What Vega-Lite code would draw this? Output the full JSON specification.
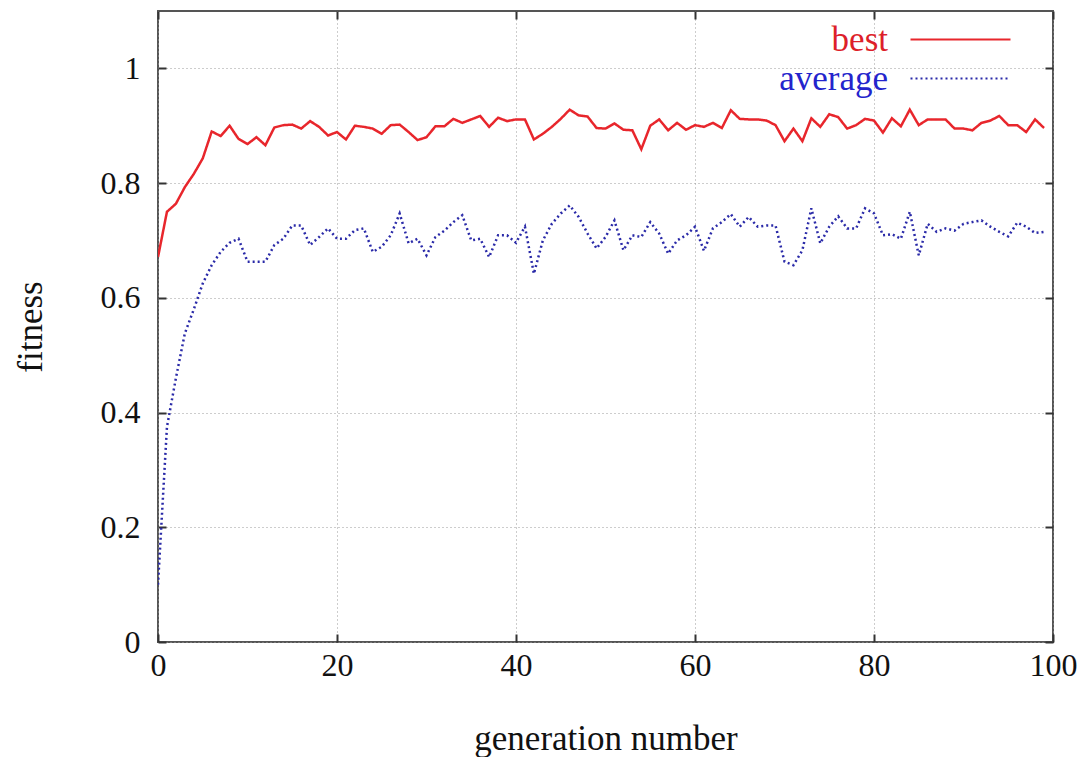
{
  "$schema": "https://vega.github.io/schema/vega-lite/v6.json",
  "width": 895,
  "height": 631,
  "autosize": {"type": "none"},
  "padding": {"left": 158, "top": 11, "right": 32, "bottom": 115},
  "background": "white",
  "config": {
    "font": "Liberation Serif",
    "view": {"stroke": "#555555", "strokeWidth": 2},
    "axis": {
      "domain": false,
      "tickColor": "#333333",
      "tickWidth": 2,
      "tickSize": -8,
      "labelFlush": false,
      "labelFont": "Liberation Serif",
      "labelFontSize": 32,
      "labelColor": "#111111",
      "titleFont": "Liberation Serif",
      "titleFontSize": 35,
      "titleFontWeight": "normal",
      "titleColor": "#111111",
      "gridColor": "#9a9a9a",
      "gridDash": [1, 3],
      "gridWidth": 1
    }
  },
  "data": {
    "values": [
      {"g": 0, "best": 0.671, "average": 0.10},
      {"g": 1, "best": 0.750, "average": 0.375},
      {"g": 2, "best": 0.764, "average": 0.46},
      {"g": 3, "best": 0.793, "average": 0.538},
      {"g": 4, "best": 0.816, "average": 0.58},
      {"g": 5, "best": 0.843, "average": 0.625},
      {"g": 6, "best": 0.890, "average": 0.657},
      {"g": 7, "best": 0.882, "average": 0.680},
      {"g": 8, "best": 0.900, "average": 0.696},
      {"g": 9, "best": 0.877, "average": 0.703},
      {"g": 10, "best": 0.868, "average": 0.663},
      {"g": 11, "best": 0.880, "average": 0.663},
      {"g": 12, "best": 0.866, "average": 0.663},
      {"g": 13, "best": 0.897, "average": 0.692},
      {"g": 14, "best": 0.901, "average": 0.703},
      {"g": 15, "best": 0.902, "average": 0.726},
      {"g": 16, "best": 0.895, "average": 0.726},
      {"g": 17, "best": 0.908, "average": 0.692},
      {"g": 18, "best": 0.898, "average": 0.706},
      {"g": 19, "best": 0.883, "average": 0.721},
      {"g": 20, "best": 0.889, "average": 0.703},
      {"g": 21, "best": 0.876, "average": 0.703},
      {"g": 22, "best": 0.900, "average": 0.718},
      {"g": 23, "best": 0.898, "average": 0.721},
      {"g": 24, "best": 0.895, "average": 0.680},
      {"g": 25, "best": 0.886, "average": 0.689},
      {"g": 26, "best": 0.901, "average": 0.709},
      {"g": 27, "best": 0.902, "average": 0.747},
      {"g": 28, "best": 0.889, "average": 0.695},
      {"g": 29, "best": 0.875, "average": 0.703},
      {"g": 30, "best": 0.880, "average": 0.674},
      {"g": 31, "best": 0.899, "average": 0.706},
      {"g": 32, "best": 0.899, "average": 0.717},
      {"g": 33, "best": 0.912, "average": 0.732},
      {"g": 34, "best": 0.905, "average": 0.744},
      {"g": 35, "best": 0.911, "average": 0.700},
      {"g": 36, "best": 0.917, "average": 0.703},
      {"g": 37, "best": 0.898, "average": 0.671},
      {"g": 38, "best": 0.914, "average": 0.709},
      {"g": 39, "best": 0.908, "average": 0.709},
      {"g": 40, "best": 0.911, "average": 0.696},
      {"g": 41, "best": 0.911, "average": 0.724},
      {"g": 42, "best": 0.876, "average": 0.642},
      {"g": 43, "best": 0.886, "average": 0.700},
      {"g": 44, "best": 0.898, "average": 0.729},
      {"g": 45, "best": 0.912, "average": 0.747},
      {"g": 46, "best": 0.928, "average": 0.761},
      {"g": 47, "best": 0.918, "average": 0.741},
      {"g": 48, "best": 0.916, "average": 0.712},
      {"g": 49, "best": 0.896, "average": 0.686},
      {"g": 50, "best": 0.895, "average": 0.706},
      {"g": 51, "best": 0.904, "average": 0.735},
      {"g": 52, "best": 0.893, "average": 0.683},
      {"g": 53, "best": 0.892, "average": 0.709},
      {"g": 54, "best": 0.859, "average": 0.706},
      {"g": 55, "best": 0.900, "average": 0.732},
      {"g": 56, "best": 0.911, "average": 0.712},
      {"g": 57, "best": 0.892, "average": 0.677},
      {"g": 58, "best": 0.905, "average": 0.700},
      {"g": 59, "best": 0.893, "average": 0.709},
      {"g": 60, "best": 0.901, "average": 0.724},
      {"g": 61, "best": 0.898, "average": 0.682},
      {"g": 62, "best": 0.905, "average": 0.721},
      {"g": 63, "best": 0.896, "average": 0.732},
      {"g": 64, "best": 0.927, "average": 0.746},
      {"g": 65, "best": 0.912, "average": 0.724},
      {"g": 66, "best": 0.911, "average": 0.741},
      {"g": 67, "best": 0.911, "average": 0.724},
      {"g": 68, "best": 0.909, "average": 0.726},
      {"g": 69, "best": 0.901, "average": 0.726},
      {"g": 70, "best": 0.873, "average": 0.663},
      {"g": 71, "best": 0.895, "average": 0.657},
      {"g": 72, "best": 0.873, "average": 0.683},
      {"g": 73, "best": 0.913, "average": 0.756},
      {"g": 74, "best": 0.898, "average": 0.695},
      {"g": 75, "best": 0.920, "average": 0.724},
      {"g": 76, "best": 0.915, "average": 0.742},
      {"g": 77, "best": 0.895, "average": 0.721},
      {"g": 78, "best": 0.901, "average": 0.721},
      {"g": 79, "best": 0.912, "average": 0.756},
      {"g": 80, "best": 0.909, "average": 0.747},
      {"g": 81, "best": 0.888, "average": 0.709},
      {"g": 82, "best": 0.913, "average": 0.711},
      {"g": 83, "best": 0.899, "average": 0.703},
      {"g": 84, "best": 0.928, "average": 0.750},
      {"g": 85, "best": 0.901, "average": 0.674},
      {"g": 86, "best": 0.911, "average": 0.729},
      {"g": 87, "best": 0.911, "average": 0.715},
      {"g": 88, "best": 0.911, "average": 0.721},
      {"g": 89, "best": 0.895, "average": 0.717},
      {"g": 90, "best": 0.895, "average": 0.729},
      {"g": 91, "best": 0.892, "average": 0.732},
      {"g": 92, "best": 0.905, "average": 0.735},
      {"g": 93, "best": 0.909, "average": 0.724},
      {"g": 94, "best": 0.917, "average": 0.715},
      {"g": 95, "best": 0.901, "average": 0.707},
      {"g": 96, "best": 0.901, "average": 0.731},
      {"g": 97, "best": 0.889, "average": 0.724},
      {"g": 98, "best": 0.911, "average": 0.713},
      {"g": 99, "best": 0.896, "average": 0.715}
    ]
  },
  "transform": [{"fold": ["best", "average"], "as": ["series", "fitness"]}],
  "layer": [
    {
      "mark": {"type": "line", "strokeWidth": 2.5, "clip": true},
      "encoding": {
        "x": {
          "field": "g", "type": "quantitative",
          "scale": {"domain": [0, 100], "nice": false},
          "axis": {"orient": "bottom", "values": [0, 20, 40, 60, 80, 100], "grid": true, "labelPadding": 16, "title": "generation number", "titlePadding": 40}
        },
        "y": {
          "field": "fitness", "type": "quantitative",
          "scale": {"domain": [0, 1.1], "nice": false},
          "axis": {"orient": "left", "values": [0, 0.2, 0.4, 0.6, 0.8, 1], "format": "~g", "grid": true, "labelPadding": 26, "title": "fitness", "titlePadding": 52}
        },
        "color": {
          "field": "series", "type": "nominal",
          "scale": {"domain": ["best", "average"], "range": ["#e8262c", "#2a2aa8"]},
          "legend": {
            "orient": "none", "legendX": 785, "legendY": 11, "title": null, "padding": 0,
            "symbolType": "M-5,0H5", "symbolSize": 400, "symbolStrokeWidth": 2,
            "labelFontSize": 35, "labelFont": "Liberation Serif", "labelAlign": "right", "labelOffset": -90,
            "rowPadding": 3,
            "encode": {"labels": {"update": {"fill": {"signal": "datum.value === 'best' ? '#dd1f2a' : '#2424cc'"}}}}
          }
        },
        "strokeDash": {
          "field": "series", "type": "nominal",
          "scale": {"domain": ["best", "average"], "range": [[1, 0], [2, 3]]},
          "legend": {
            "orient": "none", "legendX": 785, "legendY": 11, "title": null, "padding": 0,
            "symbolType": "M-5,0H5", "symbolSize": 400, "symbolStrokeWidth": 2,
            "labelFontSize": 35, "labelFont": "Liberation Serif", "labelAlign": "right", "labelOffset": -90,
            "rowPadding": 3,
            "encode": {"labels": {"update": {"fill": {"signal": "datum.value === 'best' ? '#dd1f2a' : '#2424cc'"}}}}
          }
        }
      }
    },
    {
      "mark": {"type": "point", "opacity": 0},
      "encoding": {
        "x": {"field": "g", "type": "quantitative", "axis": {"orient": "top", "values": [0, 20, 40, 60, 80, 100], "labels": false, "grid": false, "title": null}},
        "y": {"field": "fitness", "type": "quantitative", "axis": {"orient": "right", "values": [0, 0.2, 0.4, 0.6, 0.8, 1], "labels": false, "grid": false, "title": null}}
      }
    }
  ],
  "resolve": {"axis": {"x": "independent", "y": "independent"}}
}
